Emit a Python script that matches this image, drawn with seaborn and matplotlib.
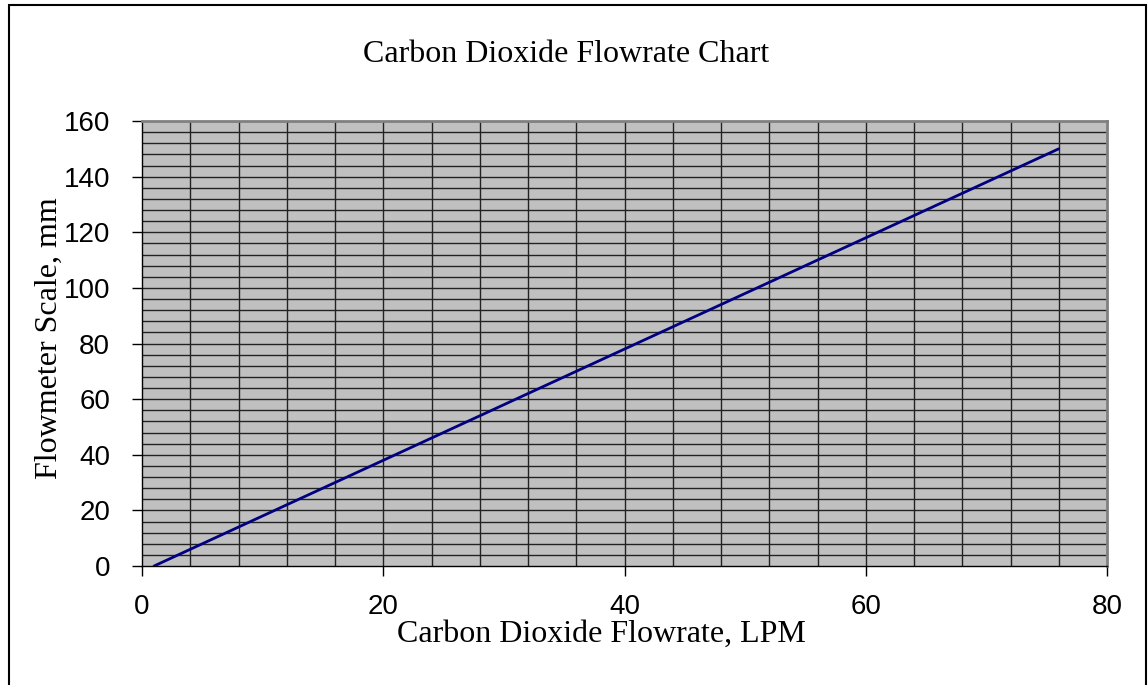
import numpy as np
import pandas as pd
import seaborn as sns
import matplotlib.pyplot as plt
from matplotlib.patches import Rectangle

# Valores (caudal en LPM vs escala del flujometro en mm)
flowrate_lpm = [1, 10, 20, 30, 40, 50, 60, 70, 76]
scale_mm = [0, 18, 38, 58, 78, 98, 118, 138, 150]

x_ticks = [0, 20, 40, 60, 80]
y_ticks = [0, 20, 40, 60, 80, 100, 120, 140, 160]

data = pd.DataFrame({'flowrate': flowrate_lpm, 'scale': scale_mm})

sns.set_style('white')
plt.rcParams['font.family'] = ['Liberation Sans', 'DejaVu Sans']
plt.rcParams['text.color'] = 'black'
plt.rcParams['axes.labelcolor'] = 'black'
plt.rcParams['xtick.color'] = 'black'
plt.rcParams['ytick.color'] = 'black'

fig = plt.figure(figsize=(11.48, 6.85), dpi=100)
ax = fig.add_axes([142 / 1148, 1 - 566 / 685, 965 / 1148, 445 / 685])
ax.set_facecolor('#c0c0c0')

# rejilla cada 4 unidades en ambos ejes
for gx in np.arange(4, 80, 4):
    ax.axvline(gx, color='#222222', lw=1.0, zorder=1)
for gy in np.arange(4, 160, 4):
    ax.axhline(gy, color='#222222', lw=1.0, zorder=1)

sns.lineplot(data=data, x='flowrate', y='scale', ax=ax, color='#000080', lw=2, zorder=3)

ax.set_xlim(0, 80)
ax.set_ylim(0, 160)
ax.set_xticks(x_ticks)
ax.set_yticks(y_ticks)
ax.tick_params(axis='both', labelsize=20, length=7, width=1, color='black',
               labelcolor='black', direction='out', left=True, bottom=True)
ax.tick_params(axis='y', pad=16)
ax.tick_params(axis='x', pad=13)

for side in ['top', 'right']:
    ax.spines[side].set_color('#808080')
    ax.spines[side].set_linewidth(2)
for side in ['left', 'bottom']:
    ax.spines[side].set_color('black')
    ax.spines[side].set_linewidth(1)

serif = ['Liberation Serif', 'DejaVu Serif']
ax.set_xlabel('Carbon Dioxide Flowrate, LPM', fontsize=23, family=serif, color='black')
ax.set_ylabel('Flowmeter Scale, mm', fontsize=23, family=serif, color='black')
ax.xaxis.set_label_coords(0.476, -0.122)
ax.yaxis.set_label_coords(-0.081, 0.513)
fig.text(566.5 / 1148, 1 - 54 / 685, 'Carbon Dioxide Flowrate Chart', fontsize=23,
         family=serif, ha='center', va='center', color='black')

# marco exterior del grafico
fig.patches.append(Rectangle((9 / 1148, -0.01), 1137 / 1148, 1 - 5 / 685 + 0.01,
                             transform=fig.transFigure, fill=False,
                             edgecolor='black', lw=1.5))

fig.savefig('out.png', dpi=100)
